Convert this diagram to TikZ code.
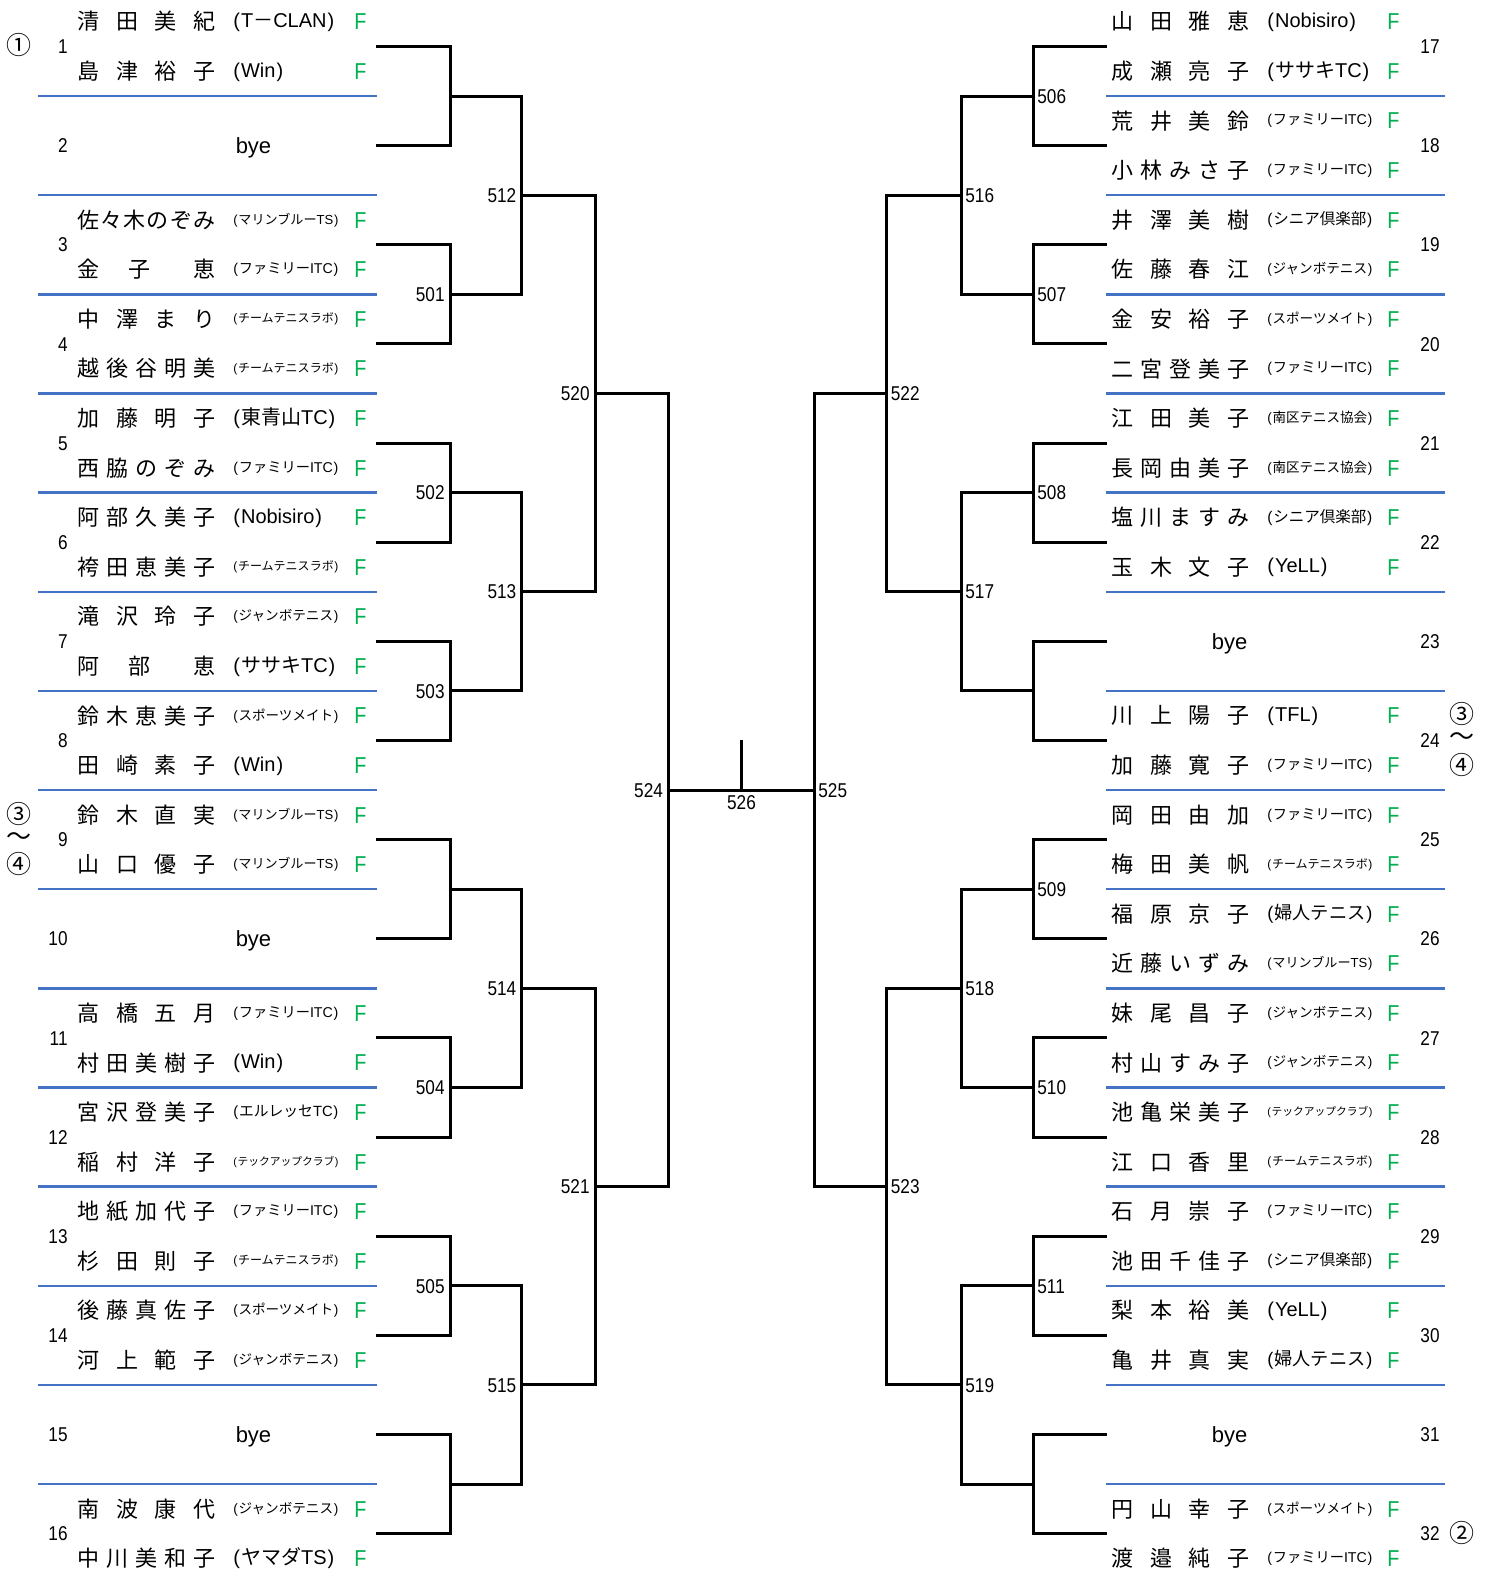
\documentclass[tikz,border=0pt]{standalone}
\usepackage{fontspec}
\usepackage{graphicx}
\setmainfont{Liberation Sans}
\newfontfamily\jp{Noto Sans CJK JP}
\newfontfamily\numf[FakeStretch=0.86]{Liberation Sans}
\definecolor{sepblue}{HTML}{4472C4}
\definecolor{fgreen}{HTML}{00B050}
\makeatletter
\def\spr@ad#1#2\@nil{#1\ifx\relax#2\relax\else\hfill\spr@ad#2\@nil\fi}
\newcommand\spreadname[1]{\hbox to 69pt{\jp\spr@ad#1\@nil}}
\makeatother
\newcommand\J[1]{{\jp #1}}
\newsavebox\clubbox
\newcommand\clubtxt[1]{\sbox\clubbox{\J{\vphantom{国}}(\kern0.05em#1\kern0.05em)}\ifdim\wd\clubbox>52.5pt\resizebox{52.5pt}{!}{\usebox\clubbox}\else\usebox\clubbox\fi}
\tikzset{
  nmtext/.style={anchor=west,inner sep=0pt,font=\fontsize{11pt}{13pt}\selectfont},
  clubt/.style={anchor=west,inner sep=0pt,font=\fontsize{10pt}{12pt}\selectfont},
  ftext/.style={inner sep=0pt,text=fgreen,font=\numf\fontsize{11.5pt}{13pt}\selectfont,text height=8.2pt,text depth=0pt},
  numt/.style={anchor=east,inner sep=0pt,font=\numf\fontsize{10pt}{12pt}\selectfont,text height=7.2pt,text depth=0pt},
  lblt/.style={inner sep=0pt,font=\numf\fontsize{10pt}{12pt}\selectfont,text height=7.2pt,text depth=0pt},
  byet/.style={inner sep=0pt,font=\fontsize{11pt}{13pt}\selectfont,text height=8pt,text depth=0pt},
  circt/.style={inner sep=0pt,font=\jp\fontsize{12.5pt}{14pt}\selectfont},
  blkline/.style={line width=1.5pt,black},
  blueline/.style={line width=1.2pt,sepblue},
}
\newcommand\teamL[5]{%
  \pgfmathsetmacro\slotY{96+(#1-1.5)*99.15}%
  \pgfmathsetmacro\slotYa{\slotY-24.8}%
  \pgfmathsetmacro\slotYb{\slotY+24.8}%
  \node[numt] (no#1) at (68,\slotY) {#1};
  \node[nmtext] (na#1) at (77,\slotYa) {\spreadname{#2}};
  \node[clubt] (ca#1) at (233,\slotYa) {\clubtxt{#3}};
  \node[ftext] (fa#1) at (360.5,\slotYa) {F};
  \node[nmtext] (nb#1) at (77,\slotYb) {\spreadname{#4}};
  \node[clubt] (cb#1) at (233,\slotYb) {\clubtxt{#5}};
  \node[ftext] (fb#1) at (360.5,\slotYb) {F};
  \coordinate (s#1) at (376,\slotY);
}
\newcommand\teamR[5]{%
  \pgfmathsetmacro\slotY{96+(#1-17.5)*99.15}%
  \pgfmathsetmacro\slotYa{\slotY-24.8}%
  \pgfmathsetmacro\slotYb{\slotY+24.8}%
  \node[numt] (no#1) at (1440,\slotY) {#1};
  \node[nmtext] (na#1) at (1111,\slotYa) {\spreadname{#2}};
  \node[clubt] (ca#1) at (1267,\slotYa) {\clubtxt{#3}};
  \node[ftext] (fa#1) at (1393.5,\slotYa) {F};
  \node[nmtext] (nb#1) at (1111,\slotYb) {\spreadname{#4}};
  \node[clubt] (cb#1) at (1267,\slotYb) {\clubtxt{#5}};
  \node[ftext] (fb#1) at (1393.5,\slotYb) {F};
  \coordinate (s#1) at (1107,\slotY);
}
\newcommand\byeL[1]{%
  \pgfmathsetmacro\slotY{96+(#1-1.5)*99.15}%
  \node[numt] (no#1) at (68,\slotY) {#1};
  \node[byet] (bye#1) at (253.5,\slotY) {bye};
  \coordinate (s#1) at (376,\slotY);
}
\newcommand\byeR[1]{%
  \pgfmathsetmacro\slotY{96+(#1-17.5)*99.15}%
  \node[numt] (no#1) at (1440,\slotY) {#1};
  \node[byet] (bye#1) at (1229.5,\slotY) {bye};
  \coordinate (s#1) at (1107,\slotY);
}
\begin{document}
\begin{tikzpicture}[x=0.5pt,y=-0.5pt]
\useasboundingbox (0,0) rectangle (1493,1580);
\fill[white] (0,0) rectangle (1493,1580);
% separators
\foreach \i in {0,...,14} {
  \pgfmathsetmacro\by{96+\i*99.15}
  \draw[blueline] (38,\by) -- (377,\by);
  \draw[blueline] (1106,\by) -- (1445,\by);
}
% left entries
\teamL{1}{清田美紀}{T\J{－}CLAN}{島津裕子}{Win}
\byeL{2}
\teamL{3}{佐々木のぞみ}{\J{マリンブルー}TS}{金{}子{}{}恵}{\J{ファミリー}ITC}
\teamL{4}{中澤まり}{\J{チームテニスラボ}}{越後谷明美}{\J{チームテニスラボ}}
\teamL{5}{加藤明子}{\J{東青山}TC}{西脇のぞみ}{\J{ファミリー}ITC}
\teamL{6}{阿部久美子}{Nobisiro}{袴田恵美子}{\J{チームテニスラボ}}
\teamL{7}{滝沢玲子}{\J{ジャンボテニス}}{阿{}部{}{}恵}{\J{ササキ}TC}
\teamL{8}{鈴木恵美子}{\J{スポーツメイト}}{田崎素子}{Win}
\teamL{9}{鈴木直実}{\J{マリンブルー}TS}{山口優子}{\J{マリンブルー}TS}
\byeL{10}
\teamL{11}{高橋五月}{\J{ファミリー}ITC}{村田美樹子}{Win}
\teamL{12}{宮沢登美子}{\J{エルレッセ}TC}{稲村洋子}{\J{テックアップクラブ}}
\teamL{13}{地紙加代子}{\J{ファミリー}ITC}{杉田則子}{\J{チームテニスラボ}}
\teamL{14}{後藤真佐子}{\J{スポーツメイト}}{河上範子}{\J{ジャンボテニス}}
\byeL{15}
\teamL{16}{南波康代}{\J{ジャンボテニス}}{中川美和子}{\J{ヤマダ}TS}
% right entries
\teamR{17}{山田雅恵}{Nobisiro}{成瀬亮子}{\J{ササキ}TC}
\teamR{18}{荒井美鈴}{\J{ファミリー}ITC}{小林みさ子}{\J{ファミリー}ITC}
\teamR{19}{井澤美樹}{\J{シニア倶楽部}}{佐藤春江}{\J{ジャンボテニス}}
\teamR{20}{金安裕子}{\J{スポーツメイト}}{二宮登美子}{\J{ファミリー}ITC}
\teamR{21}{江田美子}{\J{南区テニス協会}}{長岡由美子}{\J{南区テニス協会}}
\teamR{22}{塩川ますみ}{\J{シニア倶楽部}}{玉木文子}{YeLL}
\byeR{23}
\teamR{24}{川上陽子}{TFL}{加藤寛子}{\J{ファミリー}ITC}
\teamR{25}{岡田由加}{\J{ファミリー}ITC}{梅田美帆}{\J{チームテニスラボ}}
\teamR{26}{福原京子}{\J{婦人テニス}}{近藤いずみ}{\J{マリンブルー}TS}
\teamR{27}{妹尾昌子}{\J{ジャンボテニス}}{村山すみ子}{\J{ジャンボテニス}}
\teamR{28}{池亀栄美子}{\J{テックアップクラブ}}{江口香里}{\J{チームテニスラボ}}
\teamR{29}{石月崇子}{\J{ファミリー}ITC}{池田千佳子}{\J{シニア倶楽部}}
\teamR{30}{梨本裕美}{YeLL}{亀井真実}{\J{婦人テニス}}
\byeR{31}
\teamR{32}{円山幸子}{\J{スポーツメイト}}{渡邉純子}{\J{ファミリー}ITC}
% seeds
\node[circt] (seed1) at (19,45) {①};
\node[circt] (seed3L) at (19,814) {③};
\node[circt] (tilL) at (19,839) {～};
\node[circt] (seed4L) at (19,864) {④};
\node[circt] (seed3R) at (1462,714) {③};
\node[circt] (tilR) at (1462,739) {～};
\node[circt] (seed4R) at (1462,765) {④};
\node[circt] (seed2) at (1462,1533) {②};
% junction coordinates
\foreach \j in {1,...,8} {
  \pgfmathsetmacro\by{96+(2*\j-2)*99.15}
  \coordinate (aL\j) at (450,\by);
  \coordinate (aR\j) at (1033,\by);
}
\foreach \m in {1,...,4} {
  \pgfmathsetmacro\by{96+(4*\m-3)*99.15}
  \coordinate (bL\m) at (521.7,\by);
  \coordinate (bR\m) at (961,\by);
}
\foreach \p in {1,2} {
  \pgfmathsetmacro\by{96+(8*\p-5)*99.15}
  \coordinate (cL\p) at (595,\by);
  \coordinate (cR\p) at (886.5,\by);
}
\coordinate (dL) at (668.3,790.05);
\coordinate (dR) at (814,790.05);
\coordinate (fin) at (741.5,790.05);
\coordinate (fintop) at (741.5,740);
% round 1
\foreach \j in {1,...,8} {
  \pgfmathtruncatemacro\a{2*\j-1}
  \pgfmathtruncatemacro\b{2*\j}
  \pgfmathtruncatemacro\c{2*\j+15}
  \pgfmathtruncatemacro\d{2*\j+16}
  \draw[blkline] (s\a) -| (aL\j) |- (s\b);
  \draw[blkline] (s\c) -| (aR\j) |- (s\d);
}
% round 2
\foreach \m in {1,...,4} {
  \pgfmathtruncatemacro\a{2*\m-1}
  \pgfmathtruncatemacro\b{2*\m}
  \draw[blkline] (aL\a) -| (bL\m) |- (aL\b);
  \draw[blkline] (aR\a) -| (bR\m) |- (aR\b);
}
% round 3
\draw[blkline] (bL1) -| (cL1) |- (bL2);
\draw[blkline] (bL3) -| (cL2) |- (bL4);
\draw[blkline] (bR1) -| (cR1) |- (bR2);
\draw[blkline] (bR3) -| (cR2) |- (bR4);
% semis and final
\draw[blkline] (cL1) -| (dL) |- (cL2);
\draw[blkline] (cR1) -| (dR) |- (cR2);
\draw[blkline] (dL) -- (dR);
\draw[blkline] (fin) -- (fintop);
% match labels
\foreach \j/\t in {2/501,3/502,4/503,6/504,7/505}
  \node[lblt,anchor=east,xshift=-2.5pt] (m\t) at (aL\j) {\t};
\foreach \j/\t in {1/506,2/507,3/508,5/509,6/510,7/511}
  \node[lblt,anchor=west,xshift=2pt] (m\t) at (aR\j) {\t};
\foreach \m/\t in {1/512,2/513,3/514,4/515}
  \node[lblt,anchor=east,xshift=-2.5pt] (m\t) at (bL\m) {\t};
\foreach \m/\t in {1/516,2/517,3/518,4/519}
  \node[lblt,anchor=west,xshift=2pt] (m\t) at (bR\m) {\t};
\node[lblt,anchor=east,xshift=-2.5pt] (m520) at (cL1) {520};
\node[lblt,anchor=east,xshift=-2.5pt] (m521) at (cL2) {521};
\node[lblt,anchor=west,xshift=2pt] (m522) at (cR1) {522};
\node[lblt,anchor=west,xshift=2pt] (m523) at (cR2) {523};
\node[lblt,anchor=east,xshift=-2.5pt] (m524) at (dL) {524};
\node[lblt,anchor=west,xshift=2pt] (m525) at (dR) {525};
\node[lblt,anchor=north,yshift=-2.5pt] (m526) at (fin) {526};
\end{tikzpicture}
\end{document}
